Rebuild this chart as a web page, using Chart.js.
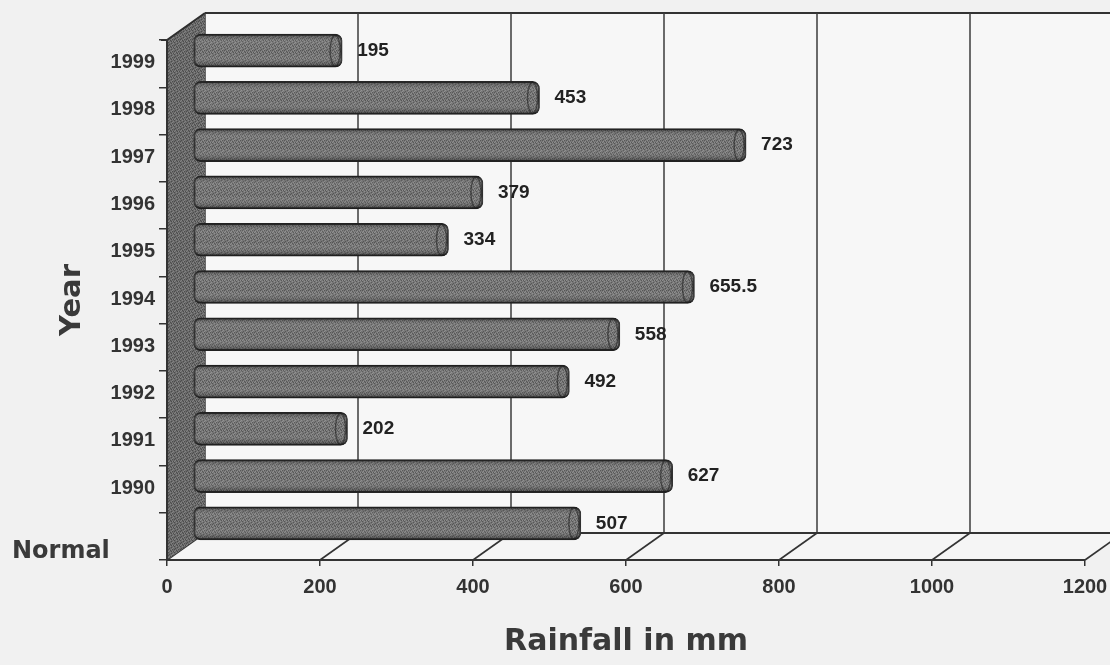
<!DOCTYPE html>
<html>
<head>
<meta charset="utf-8">
<script src="https://cdn.jsdelivr.net/npm/chart.js@4.4.1/dist/chart.umd.min.js"></script>
<style>
  html, body { margin: 0; padding: 0; background: #f1f1f1; }
  #wrap { width: 1110px; height: 665px; position: relative; }
</style>
</head>
<body>
<div id="wrap"><canvas id="c" width="1110" height="665"></canvas></div>
<script>
// Annual rainfall, top to bottom as listed on the category axis
const categories = ['1999', '1998', '1997', '1996', '1995', '1994', '1993', '1992', '1991', '1990', 'Normal'];
const rainfall = [195, 453, 723, 379, 334, 655.5, 558, 492, 202, 627, 507];
const xTicks = [0, 200, 400, 600, 800, 1000, 1200];
const xTitle = 'Rainfall in mm';
const yTitle = 'Year';
const normalLabel = 'Normal';

// depth of the 3-D box (back wall offset from the front plane)
const DX = 38, DY = -27;
// where the bar row sits inside that depth
const BAR_DX = 26, BAR_DY = -13;

const canvas = document.getElementById('c');
const ctx0 = canvas.getContext('2d');

// fine grainy texture used for the bars and the side wall
function grainPattern(base, dark, light) {
  const c = document.createElement('canvas');
  c.width = 6; c.height = 6;
  const g = c.getContext('2d');
  g.fillStyle = base; g.fillRect(0, 0, 6, 6);
  g.fillStyle = dark;
  [[0,0],[3,1],[1,2],[4,3],[2,4],[5,5],[0,3],[3,5]].forEach(p => g.fillRect(p[0], p[1], 1, 1));
  g.fillStyle = light;
  [[2,0],[5,1],[4,2],[1,4],[4,5],[3,3],[0,5]].forEach(p => g.fillRect(p[0], p[1], 1, 1));
  return ctx0.createPattern(c, 'repeat');
}
const barFill = grainPattern('#717171', '#515151', '#8a8a8a');
const wallFill = grainPattern('#6a6a6a', '#4c4c4c', '#838383');

const box3d = {
  id: 'box3d',
  beforeDraw(chart) {
    const { ctx, chartArea: a, scales: { x } } = chart;
    ctx.save();
    ctx.fillStyle = '#f1f1f1';
    ctx.fillRect(0, 0, chart.width, chart.height);

    // back wall
    ctx.fillStyle = '#f7f7f7';
    ctx.fillRect(a.left + DX, a.top + DY, a.right - a.left, a.bottom - a.top);
    ctx.strokeStyle = '#333';
    ctx.lineWidth = 2;
    ctx.beginPath();
    ctx.moveTo(a.left + DX, a.top + DY);
    ctx.lineTo(a.right + DX, a.top + DY);
    ctx.stroke();

    // vertical gridlines on the back wall
    ctx.lineWidth = 1.5;
    ctx.strokeStyle = '#3c3c3c';
    xTicks.forEach(v => {
      const px = x.getPixelForValue(v) + DX;
      ctx.beginPath();
      ctx.moveTo(px, a.top + DY);
      ctx.lineTo(px, a.bottom + DY);
      ctx.stroke();
    });

    // floor
    ctx.fillStyle = '#f5f5f5';
    ctx.beginPath();
    ctx.moveTo(a.left, a.bottom);
    ctx.lineTo(a.right, a.bottom);
    ctx.lineTo(a.right + DX, a.bottom + DY);
    ctx.lineTo(a.left + DX, a.bottom + DY);
    ctx.closePath();
    ctx.fill();
    ctx.strokeStyle = '#333';
    ctx.lineWidth = 2;
    ctx.beginPath();
    ctx.moveTo(a.left + DX, a.bottom + DY);
    ctx.lineTo(a.right + DX, a.bottom + DY);
    ctx.stroke();
    ctx.lineWidth = 1.6;
    xTicks.forEach(v => {
      const px = x.getPixelForValue(v);
      ctx.beginPath();
      ctx.moveTo(px, a.bottom);
      ctx.lineTo(px + DX, a.bottom + DY);
      ctx.stroke();
    });

    // left side wall
    ctx.fillStyle = wallFill;
    ctx.beginPath();
    ctx.moveTo(a.left, a.top);
    ctx.lineTo(a.left + DX, a.top + DY);
    ctx.lineTo(a.left + DX, a.bottom + DY);
    ctx.lineTo(a.left, a.bottom);
    ctx.closePath();
    ctx.fill();
    ctx.strokeStyle = '#2e2e2e';
    ctx.lineWidth = 2;
    ctx.beginPath();
    ctx.moveTo(a.left - 6, a.top);
    ctx.lineTo(a.left, a.top);
    ctx.lineTo(a.left + DX, a.top + DY);
    ctx.stroke();
    ctx.restore();
  },
  beforeDatasetsDraw(chart) {
    // the bar row stands inside the box, between front plane and back wall
    chart.ctx.save();
    chart.ctx.translate(BAR_DX, BAR_DY);
  },
  afterDatasetsDraw(chart) {
    const ctx = chart.ctx;
    const meta = chart.getDatasetMeta(0);
    meta.data.forEach((el, i) => {
      const h = el.height;
      const top = el.y - h / 2;
      const left = Math.min(el.base, el.x);
      const w = Math.abs(el.x - el.base);
      // cylinder shading
      ctx.save();
      ctx.beginPath();
      ctx.roundRect(left, top, w, h, 7);
      ctx.clip();
      const g = ctx.createLinearGradient(0, top, 0, top + h);
      g.addColorStop(0, 'rgba(0,0,0,0.38)');
      g.addColorStop(0.3, 'rgba(255,255,255,0.05)');
      g.addColorStop(0.6, 'rgba(255,255,255,0.02)');
      g.addColorStop(1, 'rgba(0,0,0,0.42)');
      ctx.fillStyle = g;
      ctx.fillRect(left, top, w, h);
      // end cap
      ctx.strokeStyle = 'rgba(30,30,30,0.55)';
      ctx.lineWidth = 1.5;
      ctx.beginPath();
      ctx.ellipse(el.x - 7, el.y, 5, h / 2 - 1, 0, 0, Math.PI * 2);
      ctx.stroke();
      ctx.restore();

      // value label
      ctx.save();
      ctx.fillStyle = '#222';
      ctx.font = 'bold 19px "Liberation Sans", Arial, sans-serif';
      ctx.textAlign = 'left';
      ctx.textBaseline = 'middle';
      ctx.fillText(String(rainfall[i]), el.x + 15, el.y);
      ctx.restore();
    });
    ctx.restore();
  },
  afterDraw(chart) {
    const { ctx, scales: { y } } = chart;
    const idx = categories.indexOf(normalLabel);
    const py = y.getPixelForValue(idx);
    ctx.save();
    ctx.fillStyle = '#3a3a3a';
    ctx.font = 'bold 24px "DejaVu Sans", sans-serif';
    ctx.textAlign = 'left';
    ctx.textBaseline = 'middle';
    ctx.fillText(normalLabel, 12, py + 15);
    ctx.restore();
  }
};

new Chart(canvas, {
  type: 'bar',
  data: {
    labels: categories,
    datasets: [{
      data: rainfall,
      backgroundColor: barFill,
      borderColor: '#2a2a2a',
      borderWidth: 2,
      borderSkipped: false,
      borderRadius: 7,
      barThickness: 33,
      clip: false
    }]
  },
  options: {
    indexAxis: 'y',
    responsive: false,
    animation: false,
    devicePixelRatio: 1,
    layout: { padding: { top: 40, right: 25, left: 0, bottom: 0 } },
    plugins: {
      legend: { display: false },
      tooltip: { enabled: false }
    },
    scales: {
      x: {
        type: 'linear',
        min: 0,
        max: 1200,
        afterBuildTicks: s => { s.ticks = xTicks.map(v => ({ value: v })); },
        afterFit: s => { s.height = 105; s.paddingLeft = 0; s.paddingRight = 0; },
        grid: { display: true, drawOnChartArea: false, drawTicks: true, tickLength: 6, color: '#333', lineWidth: 1.5 },
        border: { display: true, color: '#333', width: 2 },
        ticks: {
          padding: 9,
          color: '#333',
          font: { family: '"Liberation Sans", Arial, sans-serif', weight: 'bold', size: 20 },
          callback: v => String(v)
        },
        title: {
          display: true,
          text: xTitle,
          color: '#3a3a3a',
          font: { family: '"DejaVu Sans", sans-serif', weight: 'bold', size: 30 },
          padding: { top: 0, bottom: 5 }
        }
      },
      y: {
        type: 'category',
        afterFit: s => { s.width = 167; s.paddingTop = 0; s.paddingBottom = 0; },
        grid: { display: true, offset: true, drawOnChartArea: false, drawTicks: true, tickLength: 8, color: '#333', lineWidth: 1.5 },
        border: { display: true, color: '#333', width: 2 },
        ticks: {
          padding: 4,
          labelOffset: -1,
          color: '#333',
          font: { family: '"Liberation Sans", Arial, sans-serif', weight: 'bold', size: 20 },
          callback: function (v) {
            const lab = this.getLabelForValue(v);
            return lab === normalLabel ? '' : lab;
          }
        },
        title: {
          display: true,
          text: yTitle,
          color: '#3a3a3a',
          font: { family: '"DejaVu Sans", sans-serif', weight: 'bold', size: 29 },
          padding: { top: 55, bottom: 0 }
        }
      }
    }
  },
  plugins: [box3d]
});
</script>
</body>
</html>
